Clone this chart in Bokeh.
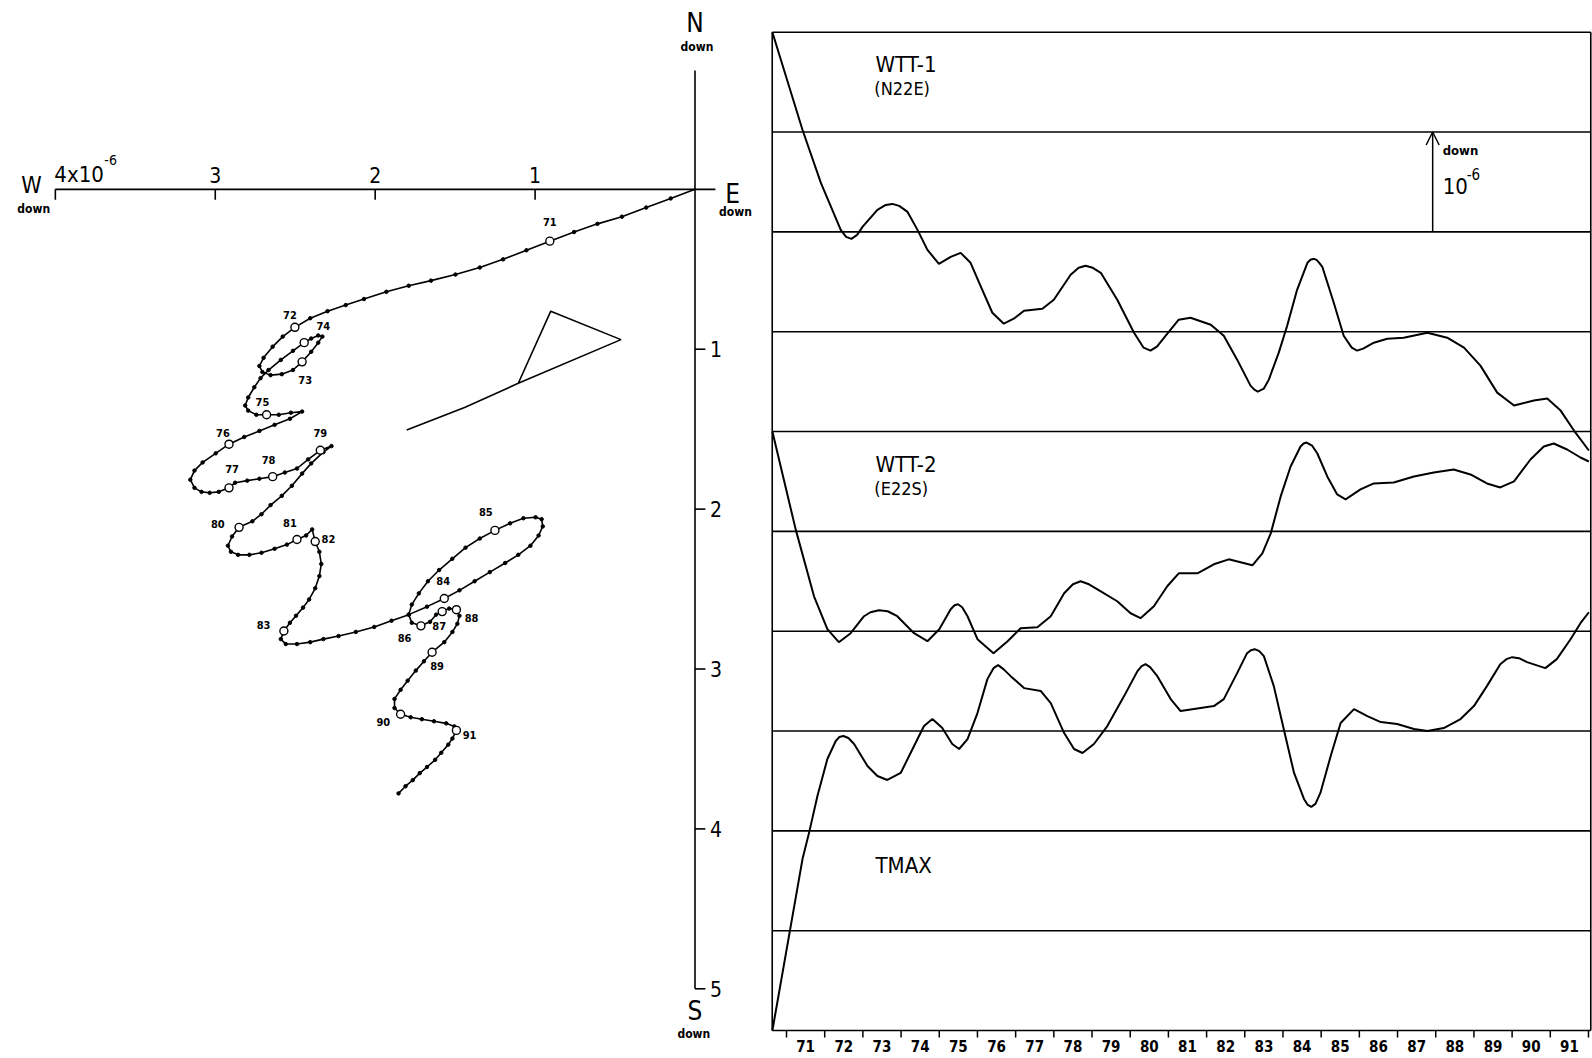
from bokeh.plotting import figure
from bokeh.layouts import row
from bokeh.models import Range1d, Arrow, OpenHead
from bokeh.core.properties import value
from bokeh.embed import file_html
from bokeh.resources import INLINE

FONT = "DejaVu Sans Condensed"

# ---------------- Left panel: hodograph of tilt (units 1e-6), west / south positive
path_west = [0.000, 0.152, 0.305, 0.457, 0.610, 0.756, 0.908, 1.054, 1.200, 1.346, 1.498, 1.651,
             1.790, 1.930, 2.070, 2.184, 2.298, 2.406, 2.502, 2.578, 2.641, 2.698, 2.724, 2.705,
             2.654, 2.584, 2.514, 2.457, 2.400, 2.356, 2.330, 2.356, 2.400, 2.444, 2.514, 2.590,
             2.667, 2.717, 2.756, 2.794, 2.813, 2.794, 2.743, 2.679, 2.603, 2.527, 2.457, 2.533,
             2.629, 2.724, 2.819, 2.914, 2.997, 3.079, 3.130, 3.156, 3.130, 3.086, 3.035, 2.978,
             2.914, 2.876, 2.800, 2.724, 2.641, 2.565, 2.489, 2.419, 2.343, 2.273, 2.324, 2.400,
             2.457, 2.521, 2.584, 2.654, 2.711, 2.768, 2.851, 2.895, 2.921, 2.902, 2.857, 2.787,
             2.711, 2.629, 2.552, 2.489, 2.432, 2.394, 2.375, 2.349, 2.337, 2.349, 2.375, 2.413,
             2.451, 2.495, 2.533, 2.571, 2.590, 2.559, 2.489, 2.406, 2.324, 2.229, 2.121, 2.006,
             1.898, 1.790, 1.676, 1.568, 1.473, 1.378, 1.283, 1.187, 1.105, 1.029, 0.978, 0.952,
             0.959, 0.997, 1.073, 1.156, 1.251, 1.346, 1.435, 1.518, 1.600, 1.670, 1.727, 1.771,
             1.790, 1.771, 1.714, 1.657, 1.619, 1.581, 1.537, 1.492, 1.473, 1.486, 1.517, 1.568,
             1.644, 1.695, 1.746, 1.797, 1.841, 1.879, 1.879, 1.841, 1.778, 1.708, 1.632, 1.556,
             1.505, 1.492, 1.517, 1.543, 1.587, 1.625, 1.676, 1.721, 1.765, 1.810, 1.854]
path_south = [0.000, 0.057, 0.114, 0.171, 0.216, 0.267, 0.324, 0.381, 0.438, 0.489, 0.533, 0.571,
              0.603, 0.641, 0.686, 0.724, 0.762, 0.806, 0.863, 0.921, 0.984, 1.054, 1.105, 1.143,
              1.162, 1.156, 1.130, 1.079, 1.016, 0.959, 0.921, 0.914, 0.933, 0.959, 1.010, 1.067,
              1.130, 1.181, 1.238, 1.302, 1.352, 1.384, 1.410, 1.410, 1.410, 1.397, 1.390, 1.435,
              1.473, 1.511, 1.549, 1.594, 1.651, 1.708, 1.759, 1.816, 1.867, 1.892, 1.898, 1.892,
              1.867, 1.835, 1.822, 1.810, 1.797, 1.771, 1.746, 1.689, 1.632, 1.606, 1.644, 1.714,
              1.778, 1.854, 1.917, 1.975, 2.032, 2.076, 2.114, 2.171, 2.229, 2.267, 2.286, 2.286,
              2.273, 2.248, 2.222, 2.190, 2.165, 2.127, 2.203, 2.267, 2.343, 2.419, 2.495, 2.565,
              2.616, 2.667, 2.711, 2.762, 2.813, 2.844, 2.844, 2.832, 2.813, 2.794, 2.768, 2.737,
              2.698, 2.660, 2.610, 2.559, 2.508, 2.451, 2.394, 2.337, 2.286, 2.229, 2.165, 2.108,
              2.063, 2.051, 2.057, 2.089, 2.133, 2.184, 2.241, 2.311, 2.381, 2.451, 2.527, 2.597,
              2.660, 2.711, 2.730, 2.705, 2.660, 2.641, 2.622, 2.629, 2.667, 2.717, 2.768, 2.832,
              2.895, 2.952, 3.010, 3.073, 3.130, 3.187, 3.244, 3.283, 3.302, 3.314, 3.327, 3.340,
              3.359, 3.384, 3.435, 3.473, 3.524, 3.568, 3.613, 3.651, 3.695, 3.733, 3.778]

year_names = ["71", "72", "73", "74", "75", "76", "77", "78", "79", "80", "81",
              "82", "83", "84", "85", "86", "87", "88", "89", "90", "91"]
year_west = [0.908, 2.502, 2.457, 2.444, 2.679, 2.914, 2.914, 2.641, 2.343, 2.851, 2.489,
             2.375, 2.571, 1.568, 1.251, 1.714, 1.581, 1.492, 1.644, 1.841, 1.492]
year_south = [0.324, 0.863, 1.079, 0.959, 1.410, 1.594, 1.867, 1.797, 1.632, 2.114, 2.190,
              2.203, 2.762, 2.559, 2.133, 2.730, 2.641, 2.629, 2.895, 3.283, 3.384]
label_west = [0.908, 2.533, 2.438, 2.324, 2.705, 2.952, 2.895, 2.667, 2.343, 2.984, 2.533,
              2.292, 2.698, 1.575, 1.308, 1.816, 1.600, 1.397, 1.613, 1.949, 1.410]
label_south = [0.203, 0.787, 1.194, 0.857, 1.333, 1.524, 1.746, 1.695, 1.524, 2.095, 2.089,
               2.184, 2.724, 2.451, 2.019, 2.806, 2.730, 2.679, 2.984, 3.333, 3.410]

tri_west = [1.803, 1.441, 1.105, 0.463, 0.902, 1.105]
tri_south = [1.505, 1.365, 1.213, 0.940, 0.762, 1.213]

west_ticks = [1, 2, 3, 4]
south_ticks = [1, 2, 3, 4, 5]
west_tick_labels = ["1", "2", "3"]
north_extent = -0.743      # top end of the N-S axis
east_extent = -0.128       # right end of the W-E axis
TICK = 0.065

compass_text = ["N", "W", "E", "S"]
compass_west = [0.0, 4.150, -0.235, 0.0]
compass_south = [-1.040, -0.025, 0.028, 5.136]
compass_size = ["26px", "23px", "26px", "26px"]
down_west = [-0.012, 4.135, -0.253, 0.007]
down_south = [-0.889, 0.120, 0.143, 5.283]

# ---------------- Right panel: time series (1e-6 per division, down positive)
wtt1_year = [1970.63, 1971.42, 1971.90, 1972.42, 1972.56, 1972.70, 1972.85, 1972.99, 1973.38, 1973.60,
             1973.77, 1973.95, 1974.17, 1974.43, 1974.69, 1974.99, 1975.30, 1975.56, 1975.82, 1976.08,
             1976.39, 1976.69, 1976.95, 1977.22, 1977.70, 1978.00, 1978.44, 1978.65, 1978.83, 1979.02,
             1979.23, 1979.66, 1980.10, 1980.35, 1980.53, 1980.70, 1980.93, 1981.27, 1981.58, 1982.11,
             1982.45, 1982.80, 1983.15, 1983.25, 1983.34, 1983.50, 1983.63, 1983.89, 1984.11, 1984.37,
             1984.64, 1984.72, 1984.81, 1984.88, 1984.95, 1985.03, 1985.33, 1985.59, 1985.80, 1985.94,
             1986.10, 1986.38, 1986.73, 1987.16, 1987.78, 1988.30, 1988.74, 1989.17, 1989.61, 1990.05,
             1990.57, 1990.92, 1991.27, 1991.62, 1992.01]
wtt1_val = [0.00, 0.98, 1.51, 1.98, 2.05, 2.07, 2.03, 1.95, 1.78, 1.73,
            1.72, 1.74, 1.80, 1.98, 2.18, 2.32, 2.25, 2.21, 2.31, 2.54,
            2.81, 2.92, 2.87, 2.79, 2.77, 2.68, 2.43, 2.36, 2.34, 2.36,
            2.41, 2.68, 3.01, 3.16, 3.19, 3.15, 3.04, 2.88, 2.86, 2.93,
            3.04, 3.28, 3.54, 3.58, 3.60, 3.57, 3.48, 3.21, 2.94, 2.58,
            2.31, 2.28, 2.27, 2.28, 2.31, 2.35, 2.71, 3.04, 3.16, 3.19,
            3.17, 3.11, 3.07, 3.06, 3.01, 3.06, 3.16, 3.34, 3.61, 3.74,
            3.69, 3.67, 3.79, 3.99, 4.19]

wtt2_year = [1970.63, 1971.24, 1971.72, 1972.07, 1972.37, 1972.68, 1973.03, 1973.20, 1973.42, 1973.65,
             1973.90, 1974.34, 1974.69, 1975.00, 1975.30, 1975.40, 1975.49, 1975.60, 1975.74, 1976.00,
             1976.42, 1976.79, 1977.13, 1977.57, 1977.92, 1978.27, 1978.50, 1978.70, 1978.92, 1979.23,
             1979.66, 1980.01, 1980.27, 1980.62, 1980.97, 1981.27, 1981.76, 1982.19, 1982.58, 1982.89,
             1983.20, 1983.46, 1983.68, 1983.94, 1984.20, 1984.46, 1984.54, 1984.62, 1984.76, 1984.90,
             1985.16, 1985.42, 1985.64, 1986.03, 1986.38, 1986.90, 1987.43, 1987.95, 1988.47, 1988.91,
             1989.34, 1989.69, 1990.05, 1990.48, 1990.83, 1991.09, 1991.44, 1991.79, 1992.01]
wtt2_val = [4.00, 4.98, 5.65, 5.98, 6.11, 6.02, 5.85, 5.81, 5.79, 5.80,
            5.85, 6.02, 6.10, 5.98, 5.78, 5.74, 5.73, 5.76, 5.85, 6.08,
            6.22, 6.10, 5.97, 5.96, 5.85, 5.62, 5.53, 5.50, 5.53, 5.60,
            5.70, 5.82, 5.87, 5.75, 5.55, 5.42, 5.42, 5.33, 5.28, 5.31,
            5.34, 5.22, 5.02, 4.65, 4.35, 4.15, 4.12, 4.11, 4.14, 4.22,
            4.45, 4.63, 4.68, 4.58, 4.52, 4.51, 4.45, 4.41, 4.38, 4.43,
            4.52, 4.56, 4.50, 4.28, 4.15, 4.12, 4.18, 4.26, 4.30]

tmax_year = [1970.63, 1971.42, 1971.59, 1971.81, 1972.07, 1972.29, 1972.38, 1972.49, 1972.62, 1972.77,
             1973.12, 1973.38, 1973.64, 1973.99, 1974.34, 1974.60, 1974.82, 1975.08, 1975.34, 1975.52,
             1975.74, 1976.00, 1976.26, 1976.42, 1976.54, 1976.68, 1976.87, 1977.22, 1977.66, 1977.92,
             1978.27, 1978.53, 1978.75, 1979.05, 1979.40, 1979.84, 1980.19, 1980.30, 1980.40, 1980.52,
             1980.71, 1981.06, 1981.32, 1981.67, 1982.19, 1982.45, 1982.80, 1983.06, 1983.16, 1983.26,
             1983.38, 1983.50, 1983.76, 1984.02, 1984.29, 1984.55, 1984.65, 1984.74, 1984.85, 1984.98,
             1985.25, 1985.51, 1985.86, 1986.21, 1986.56, 1986.99, 1987.43, 1987.78, 1988.21, 1988.65,
             1989.00, 1989.34, 1989.69, 1989.85, 1990.00, 1990.18, 1990.39, 1990.87, 1991.17, 1991.53,
             1991.79, 1992.01]
tmax_val = [10.00, 8.28, 8.02, 7.65, 7.28, 7.10, 7.06, 7.05, 7.07, 7.13,
            7.35, 7.45, 7.49, 7.42, 7.15, 6.95, 6.88, 6.97, 7.13, 7.18,
            7.08, 6.82, 6.48, 6.37, 6.34, 6.38, 6.45, 6.57, 6.60, 6.72,
            7.02, 7.18, 7.22, 7.13, 6.95, 6.65, 6.40, 6.35, 6.33, 6.36,
            6.45, 6.68, 6.80, 6.78, 6.75, 6.68, 6.42, 6.22, 6.19, 6.18,
            6.20, 6.25, 6.55, 6.98, 7.42, 7.68, 7.74, 7.76, 7.73, 7.62,
            7.25, 6.92, 6.78, 6.85, 6.91, 6.93, 6.98, 7.00, 6.97, 6.88,
            6.75, 6.55, 6.33, 6.28, 6.26, 6.27, 6.31, 6.37, 6.28, 6.08,
            5.92, 5.81]

years = list(range(1971, 1992))
year_tick_labels = ["71", "72", "73", "74", "75", "76", "77", "78", "79", "80", "81",
                    "82", "83", "84", "85", "86", "87", "88", "89", "90", "91"]
levels = list(range(0, 11))
T0, T1 = 1970.626, 1992.06
YTICK = 0.07

series_names = ["WTT-1", "WTT-2", "TMAX"]
series_dirs = ["(N22E)", "(E22S)"]
name_year = [1973.33, 1973.33, 1973.33]
name_val = [0.319, 4.33, 8.347]
dir_year = [1973.30, 1973.30]
dir_val = [0.562, 4.567]

ARROW_YEAR = 1987.92
ARROW_FROM, ARROW_TO = 2, 1

# ================= Left figure
L = figure(width=760, height=1058, x_range=Range1d(4.343, -0.4096), y_range=Range1d(5.436, -1.181),
           output_backend="svg", toolbar_location=None, x_axis_location=None, y_axis_location=None,
           min_border=0, outline_line_color=None)
L.xgrid.visible = False
L.ygrid.visible = False

# axes drawn from the tick arrays
L.segment(x0=[max(west_ticks)], y0=[0], x1=[east_extent], y1=[0], line_color="black", line_width=1.6)
L.segment(x0=[0], y0=[north_extent], x1=[0], y1=[max(south_ticks)], line_color="black", line_width=1.6)
L.segment(x0=west_ticks, y0=[0] * len(west_ticks), x1=west_ticks, y1=[TICK] * len(west_ticks),
          line_color="black", line_width=1.6)
L.segment(x0=[0] * len(south_ticks), y0=south_ticks, x1=[-TICK] * len(south_ticks), y1=south_ticks,
          line_color="black", line_width=1.6)

L.text(x=west_ticks[:3], y=[0] * 3, text=west_tick_labels, text_align="center", text_baseline="middle",
       y_offset=-14, text_font=value(FONT), text_font_size="21px", text_color="black")
L.text(x=[max(west_ticks)], y=[0], text=["4x10"], text_align="left", text_baseline="middle",
       x_offset=-1, y_offset=-15, text_font=value(FONT), text_font_size="22px", text_color="black")
L.text(x=[max(west_ticks)], y=[0], text=["-6"], text_align="left", text_baseline="middle",
       x_offset=49, y_offset=-29, text_font=value(FONT), text_font_size="14px", text_color="black")
L.text(x=[0] * len(south_ticks), y=south_ticks, text=[str(t) for t in south_ticks],
       text_align="left", text_baseline="middle", x_offset=15, text_font=value(FONT),
       text_font_size="21px", text_color="black")

L.text(x=compass_west, y=compass_south, text=compass_text, text_align="center", text_baseline="middle",
       text_font=value(FONT), text_font_size=compass_size, text_color="black")
L.text(x=down_west, y=down_south, text=["down"] * 4, text_align="center", text_baseline="middle",
       text_font=value(FONT), text_font_size="12px", text_font_style="bold", text_color="black")

# strain shape
L.line(x=tri_west, y=tri_south, line_color="black", line_width=1.6)

# hodograph path with monthly dots and yearly circles
L.line(x=path_west, y=path_south, line_color="black", line_width=1.6)
L.scatter(x=path_west[1:], y=path_south[1:], size=3.5, marker="circle", color="black")
L.scatter(x=year_west, y=year_south, size=8, marker="circle", fill_color="white",
          line_color="black", line_width=1.4)
L.text(x=label_west, y=label_south, text=year_names, text_align="center", text_baseline="middle",
       text_font=value(FONT), text_font_size="11px", text_font_style="bold", text_color="black")

# ================= Right figure
R = figure(width=832, height=1058, x_range=Range1d(1970.319, 1992.105), y_range=Range1d(10.28, -0.3175),
           output_backend="svg", toolbar_location=None, x_axis_location=None, y_axis_location=None,
           min_border=0, outline_line_color=None)
R.xgrid.visible = False
R.ygrid.visible = False

# box and division lines
R.segment(x0=[T0] * len(levels), y0=levels, x1=[T1] * len(levels), y1=levels,
          line_color="black", line_width=1.6)
R.segment(x0=[T0, T1], y0=[levels[0]] * 2, x1=[T0, T1], y1=[levels[-1]] * 2,
          line_color="black", line_width=1.6)

# time axis: ticks at year boundaries, labels at mid-year
bounds = years + [years[-1] + 1]
R.segment(x0=bounds, y0=[levels[-1]] * len(bounds), x1=bounds, y1=[levels[-1] + YTICK] * len(bounds),
          line_color="black", line_width=1.5)
R.text(x=[y + 0.5 for y in years], y=[levels[-1]] * len(years), text=year_tick_labels,
       text_align="center", text_baseline="middle", y_offset=15, text_font=value(FONT),
       text_font_size="15px", text_font_style="bold", text_color="black")

for xs, ys in ((wtt1_year, wtt1_val), (wtt2_year, wtt2_val), (tmax_year, tmax_val)):
    R.line(x=xs, y=ys, line_color="black", line_width=2)

R.text(x=name_year, y=name_val, text=series_names, text_align="left", text_baseline="middle",
       text_font=value(FONT), text_font_size="22px", text_color="black")
R.text(x=dir_year, y=dir_val, text=series_dirs, text_align="left", text_baseline="middle",
       text_font=value(FONT), text_font_size="18px", text_color="black")

R.add_layout(Arrow(end=OpenHead(size=13, line_width=1.5, line_color="black"),
                   x_start=ARROW_YEAR, y_start=ARROW_FROM, x_end=ARROW_YEAR, y_end=ARROW_TO,
                   line_width=1.5, line_color="black"))
R.text(x=[ARROW_YEAR], y=[ARROW_TO], text=["down"], text_align="left", text_baseline="middle",
       x_offset=10, y_offset=18, text_font=value(FONT), text_font_size="13px", text_font_style="bold",
       text_color="black")
R.text(x=[ARROW_YEAR], y=[ARROW_TO], text=["10"], text_align="left", text_baseline="middle",
       x_offset=10, y_offset=54, text_font=value(FONT), text_font_size="22px", text_color="black")
R.text(x=[ARROW_YEAR], y=[ARROW_TO], text=["-6"], text_align="left", text_baseline="middle",
       x_offset=34, y_offset=42, text_font=value(FONT), text_font_size="15px", text_color="black")

layout = row(L, R, spacing=0)
open("out.html", "w").write(file_html(layout, INLINE))
